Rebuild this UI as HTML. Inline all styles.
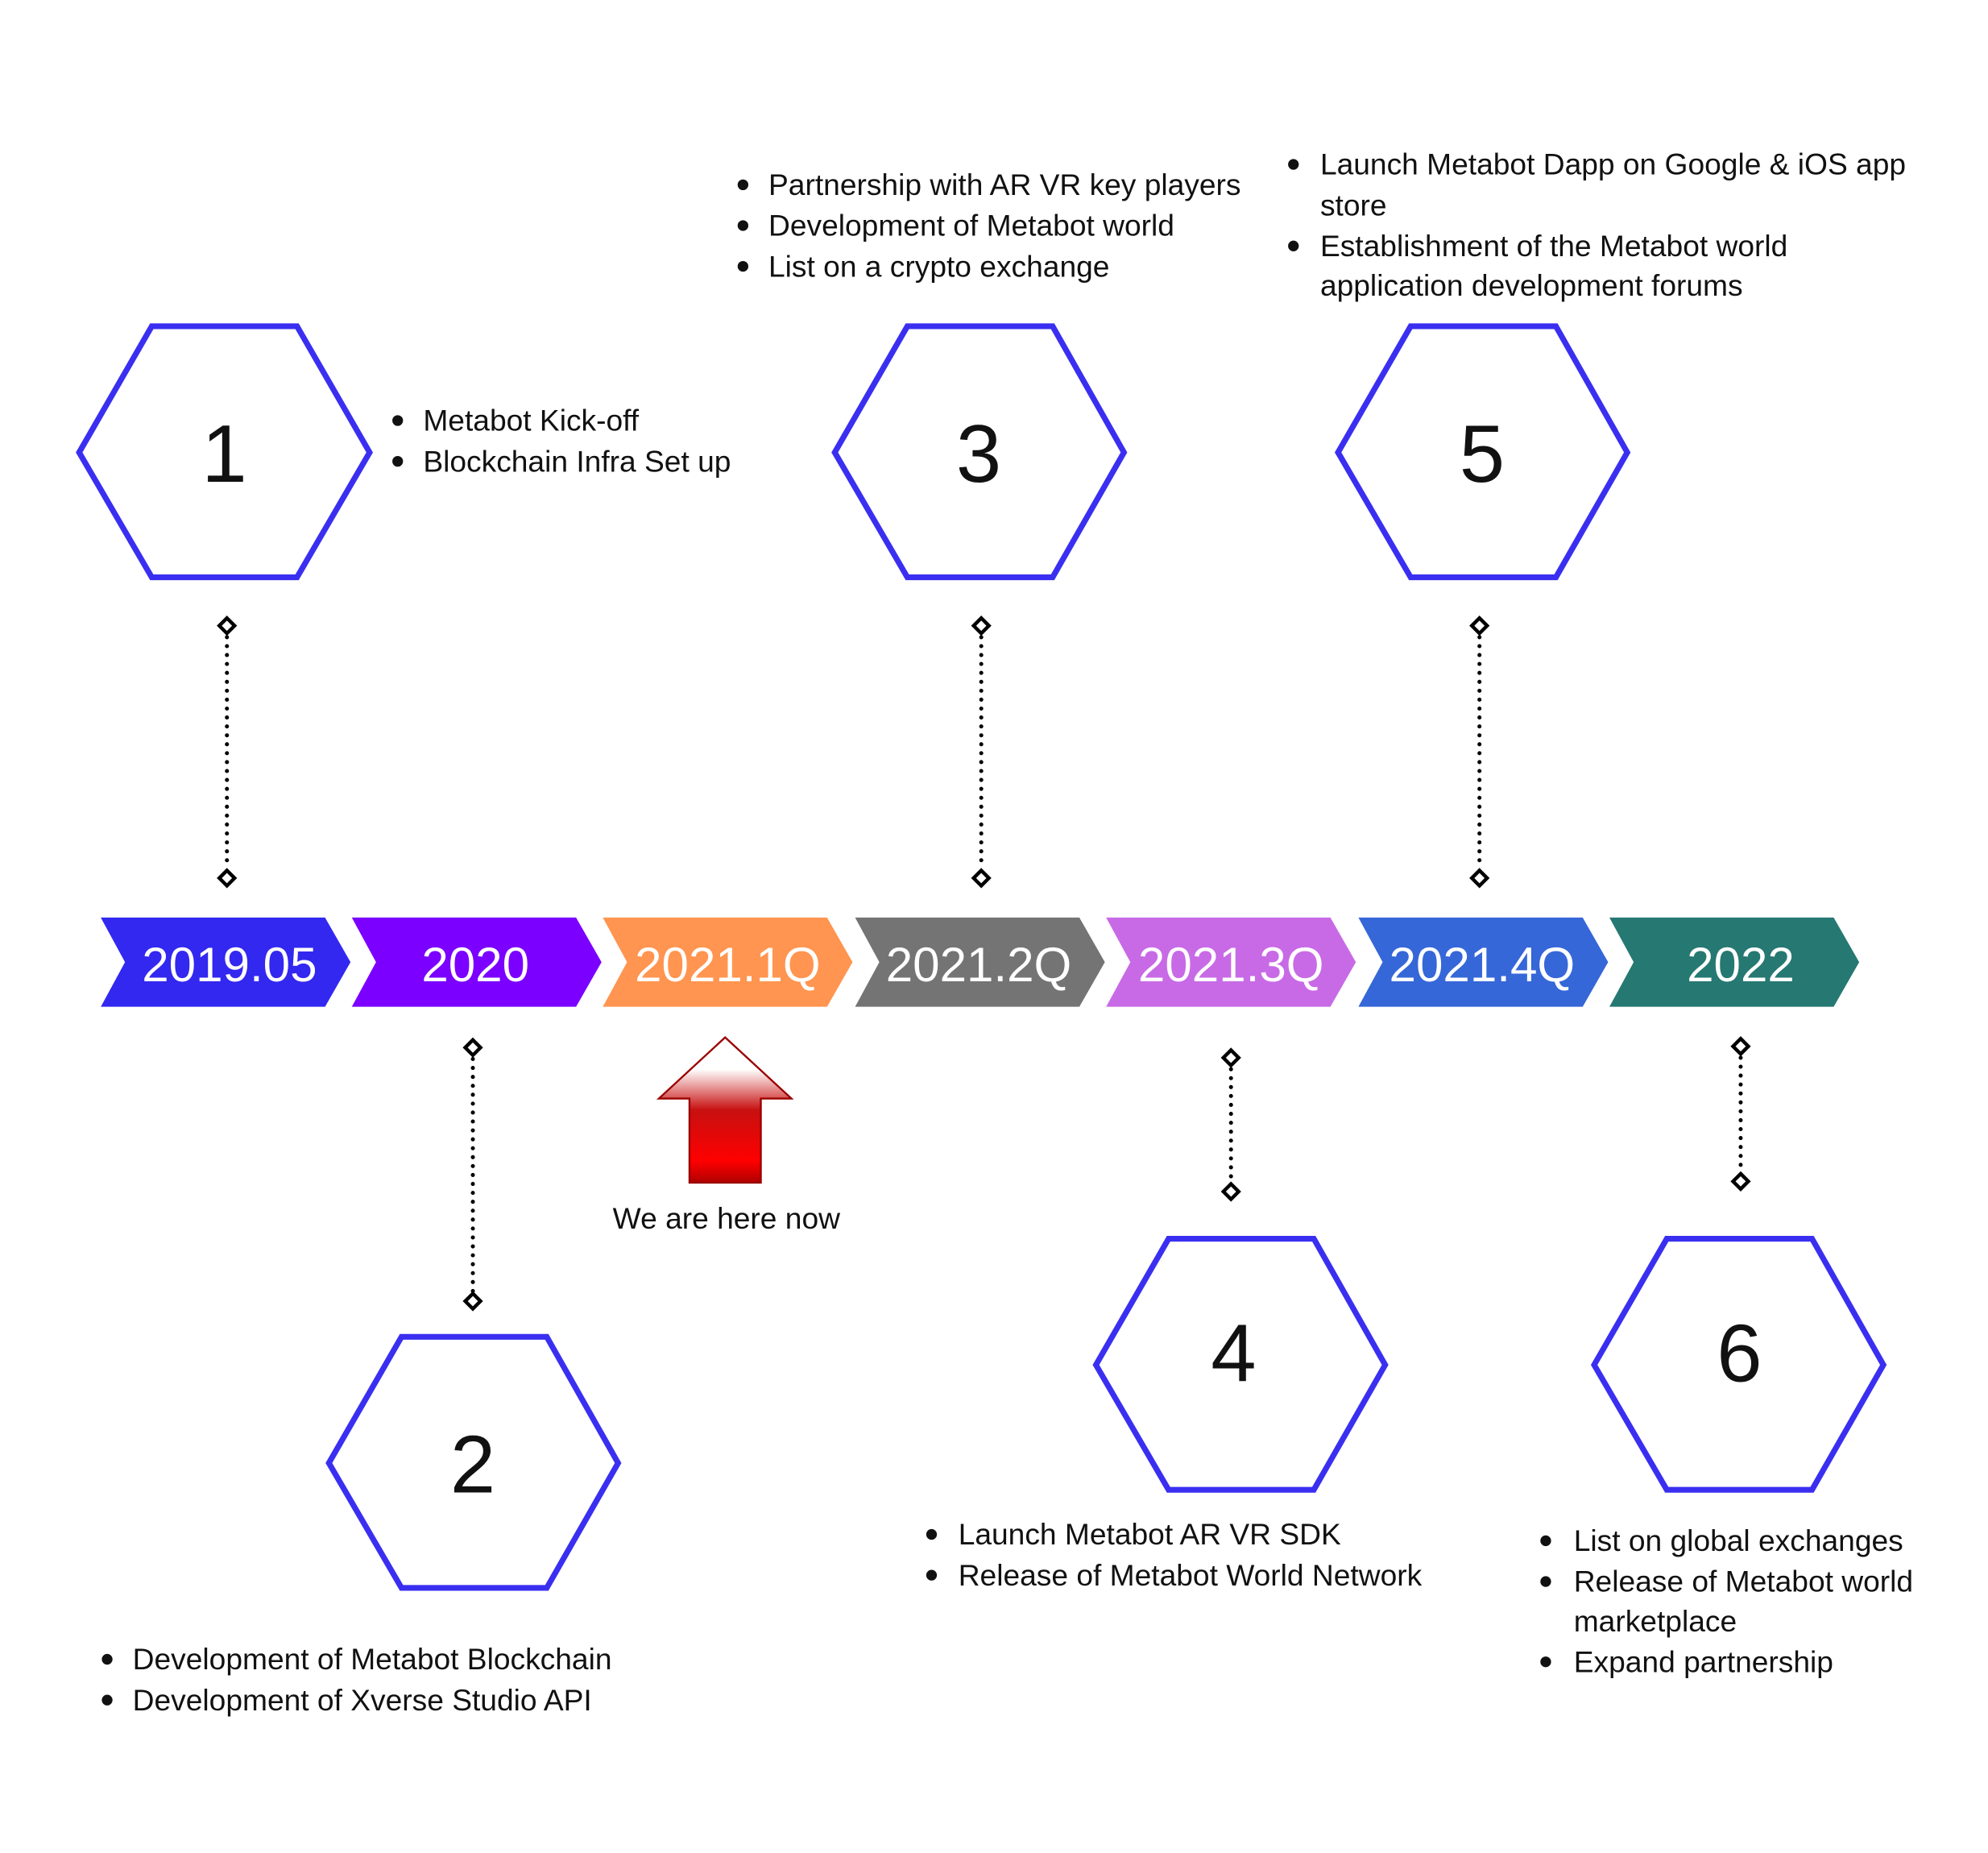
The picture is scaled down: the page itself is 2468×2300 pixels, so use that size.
<!DOCTYPE html>
<html><head><meta charset="utf-8"><style>
html,body{margin:0;padding:0;background:#fff;}
svg{display:block;}
text{font-family:"Liberation Sans",sans-serif;}
</style></head><body>
<svg width="2468" height="2300" viewBox="0 0 1560 1454" xmlns="http://www.w3.org/2000/svg">
<defs>
<linearGradient id="ag" x1="0" y1="0" x2="0" y2="1">
<stop offset="0" stop-color="#ffffff"/>
<stop offset="0.22" stop-color="#ffffff"/>
<stop offset="0.5" stop-color="#c81010"/>
<stop offset="0.85" stop-color="#ff0000"/>
<stop offset="1" stop-color="#b00000"/>
</linearGradient>
<g id="dia"><path d="M0,-6 L6,0 L0,6 L-6,0 Z" fill="#fff" stroke="#000" stroke-width="2.8"/></g>
</defs>

<g fill="none" stroke="#3a2ff0" stroke-width="4.5">
<polygon points="62,355 119,256 233,256 290,355 233,453 119,453"/>
<polygon points="655,355 712,256 826,256 882,355 826,453 712,453"/>
<polygon points="1050,355 1107,256 1221,256 1277,355 1221,453 1107,453"/>
<polygon points="258,1148 315,1049 429,1049 485,1148 429,1246 315,1246"/>
<polygon points="860,1071 917,972 1031,972 1087,1071 1031,1169 917,1169"/>
<polygon points="1251,1071 1308,972 1422,972 1478,1071 1422,1169 1308,1169"/>
</g>
<g font-size="64" fill="#111" text-anchor="middle">
<text x="176" y="378">1</text>
<text x="768" y="378">3</text>
<text x="1163" y="378">5</text>
<text x="371" y="1171">2</text>
<text x="968" y="1084">4</text>
<text x="1365" y="1084">6</text>
</g>

<g stroke="#000" stroke-width="3.2" stroke-linecap="round" stroke-dasharray="0 7">
<line x1="178" y1="500" x2="178" y2="682"/>
<line x1="770" y1="500" x2="770" y2="682"/>
<line x1="1161" y1="500" x2="1161" y2="682"/>
<line x1="371" y1="831" x2="371" y2="1014"/>
<line x1="966" y1="839" x2="966" y2="928"/>
<line x1="1366" y1="830" x2="1366" y2="920"/>
</g>
<use href="#dia" x="178" y="491"/><use href="#dia" x="178" y="689"/>
<use href="#dia" x="770" y="491"/><use href="#dia" x="770" y="689"/>
<use href="#dia" x="1161" y="491"/><use href="#dia" x="1161" y="689"/>
<use href="#dia" x="371" y="822"/><use href="#dia" x="371" y="1021"/>
<use href="#dia" x="966" y="830"/><use href="#dia" x="966" y="935"/>
<use href="#dia" x="1366" y="821"/><use href="#dia" x="1366" y="927"/>

<g>
<polygon points="79,720 255,720 275,755 255,790 79,790 98,755" fill="#3228f0"/>
<polygon points="276,720 452,720 472,755 452,790 276,790 295,755" fill="#7b00ff"/>
<polygon points="473,720 649,720 669,755 649,790 473,790 492,755" fill="#ff9550"/>
<polygon points="671,720 847,720 867,755 847,790 671,790 690,755" fill="#747474"/>
<polygon points="868,720 1044,720 1064,755 1044,790 868,790 887,755" fill="#c86ae6"/>
<polygon points="1066,720 1242,720 1262,755 1242,790 1066,790 1085,755" fill="#3567d8"/>
<polygon points="1263,720 1439,720 1459,755 1439,790 1263,790 1282,755" fill="#267872"/>
</g>
<g font-size="38" fill="#fff" text-anchor="middle">
<text x="180" y="770">2019.05</text>
<text x="373" y="770">2020</text>
<text x="571" y="770">2021.1Q</text>
<text x="768" y="770">2021.2Q</text>
<text x="966" y="770">2021.3Q</text>
<text x="1163" y="770">2021.4Q</text>
<text x="1366" y="770">2022</text>
</g>

<polygon points="569,814 621,862 597,862 597,928 541,928 541,862 517,862" fill="url(#ag)" stroke="#9a0000" stroke-width="1.5"/>
<text x="570" y="964" font-size="23.5" fill="#111" text-anchor="middle">We are here now</text>

<g font-size="23.5" fill="#111">
<text x="332" y="338">Metabot Kick-off</text>
<text x="332" y="370">Blockchain Infra Set up</text>
<text x="603" y="153">Partnership with AR VR key players</text>
<text x="603" y="185">Development of Metabot world</text>
<text x="603" y="217">List on a crypto exchange</text>
<text x="1036" y="137">Launch Metabot Dapp on Google &amp; iOS app</text>
<text x="1036" y="169">store</text>
<text x="1036" y="201">Establishment of the Metabot world</text>
<text x="1036" y="232">application development forums</text>
<text x="104" y="1310">Development of Metabot Blockchain</text>
<text x="104" y="1342">Development of Xverse Studio API</text>
<text x="752" y="1212">Launch Metabot AR VR SDK</text>
<text x="752" y="1244">Release of Metabot World Network</text>
<text x="1235" y="1217">List on global exchanges</text>
<text x="1235" y="1249">Release of Metabot world</text>
<text x="1235" y="1280">marketplace</text>
<text x="1235" y="1312">Expand partnership</text>
</g>
<g fill="#111">
<circle cx="312" cy="330" r="4.2"/><circle cx="312" cy="362" r="4.2"/>
<circle cx="583" cy="145" r="4.2"/><circle cx="583" cy="177" r="4.2"/><circle cx="583" cy="209" r="4.2"/>
<circle cx="1015" cy="129" r="4.2"/><circle cx="1015" cy="193" r="4.2"/>
<circle cx="84" cy="1302" r="4.2"/><circle cx="84" cy="1334" r="4.2"/>
<circle cx="731" cy="1204" r="4.2"/><circle cx="731" cy="1236" r="4.2"/>
<circle cx="1213" cy="1209" r="4.2"/><circle cx="1213" cy="1241" r="4.2"/><circle cx="1213" cy="1304" r="4.2"/>
</g>
</svg>
</body></html>
